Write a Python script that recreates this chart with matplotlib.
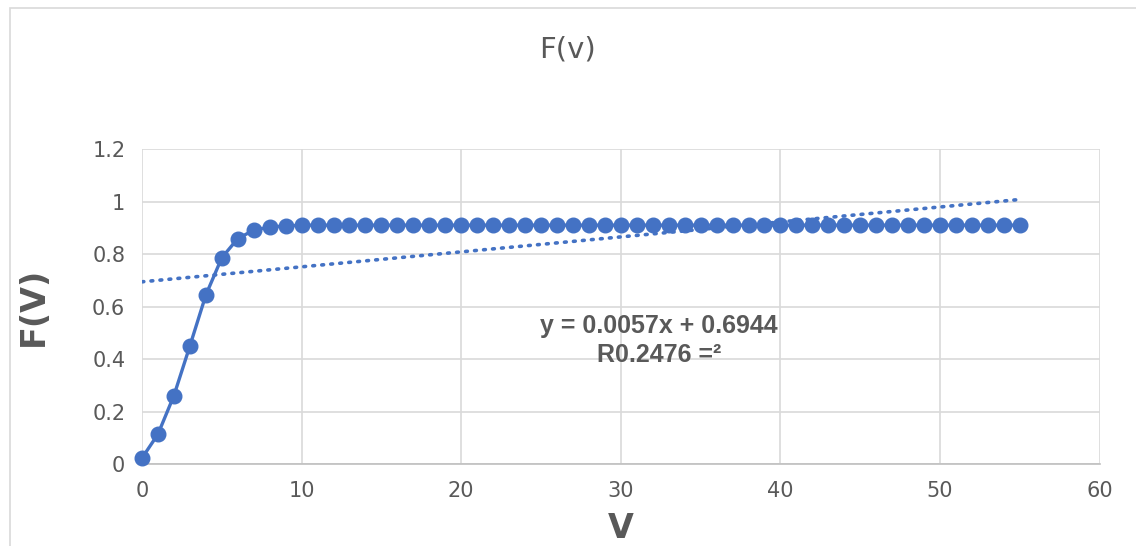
"""F(v) chart with linear trendline, Excel style."""
import matplotlib
matplotlib.use("Agg")
import matplotlib.pyplot as plt
from matplotlib.patches import Rectangle
from matplotlib.ticker import FuncFormatter

# data
v_head = [0, 1, 2, 3, 4, 5, 6, 7, 8, 9]
f_head = [0.023, 0.114, 0.261, 0.450, 0.644, 0.786, 0.859, 0.891, 0.903, 0.907]
v_tail = list(range(10, 56))
f_tail = [0.91] * len(v_tail)
v = v_head + v_tail
f = f_head + f_tail

# trendline as printed on the chart
slope = 0.0057
intercept = 0.6944
trend_label = "y = 0.0057x + 0.6944\nR0.2476 =²"

x_ticks = [0, 10, 20, 30, 40, 50, 60]
y_ticks = [0, 0.2, 0.4, 0.6, 0.8, 1.0, 1.2]

blue = "#4472C4"
grey = "#595959"
grid = "#d9d9d9"
fam = ["Liberation Sans Narrow", "DejaVu Sans"]
plt.rcParams["font.family"] = fam

fig = plt.figure(figsize=(11.36, 5.46), dpi=100)
ax = fig.add_axes([0.125, 0.150, 0.843, 0.577])

fig.patches.append(Rectangle((10 / 1136, -0.1), 1.2, 1.1 - 8 / 546,
                             transform=fig.transFigure, fill=False,
                             edgecolor=grid, linewidth=1.2))

ax.plot(v, f, color=blue, linewidth=2.4, marker="o", markersize=10.5,
        zorder=3, clip_on=False)

tx = [v[0], v[-1]]
ty = [slope * x + intercept for x in tx]
ax.plot(tx, ty, color=blue, linewidth=2.6, linestyle=(0, (0.5, 2.0)),
        dash_capstyle="round", zorder=2)

ax.set_xlim(0, 60)
ax.set_ylim(0, 1.2)
ax.set_xticks(x_ticks)
ax.set_yticks(y_ticks)
ax.yaxis.set_major_formatter(FuncFormatter(lambda y, _: f"{y:g}"))
ax.grid(True, color=grid, linewidth=1.2)
ax.set_axisbelow(True)
for side in ["left", "right", "top"]:
    ax.spines[side].set_visible(False)
ax.spines["bottom"].set_color("#bfbfbf")
ax.spines["bottom"].set_linewidth(1.2)
ax.tick_params(length=0, labelsize=15, labelcolor=grey, pad=12)

ax.set_xlabel("V", fontsize=24, fontweight="bold", color=grey)
ax.xaxis.set_label_coords(0.5, -0.152)
ax.set_ylabel("F(V)", fontsize=24, fontweight="bold", color=grey)
ax.yaxis.set_label_coords(-0.096, 0.5)
fig.suptitle("F(v)", y=0.935, fontsize=21, color=grey)

ax.text(32.4, 0.472, trend_label, ha="center", va="center", fontsize=18,
        fontweight="bold", color=grey, family=["Liberation Sans", "DejaVu Sans"],
        linespacing=1.25)

fig.savefig("out.png", dpi=100)
